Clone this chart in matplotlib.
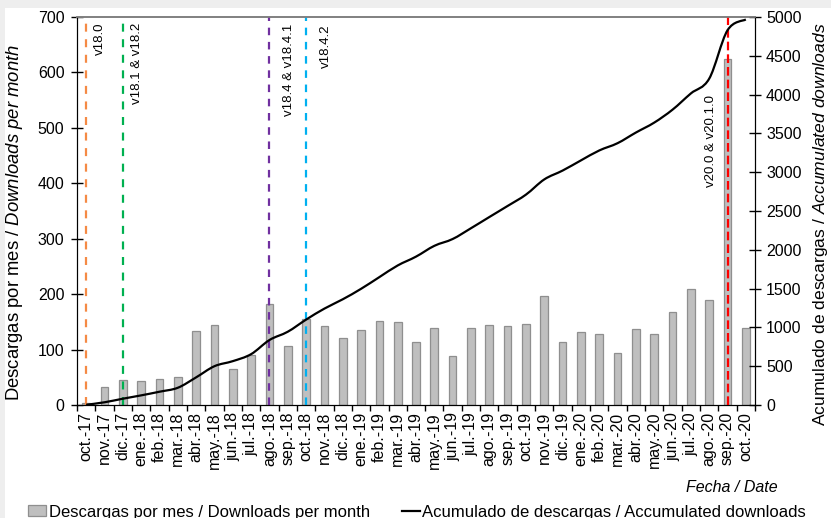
import numpy as np
import matplotlib
matplotlib.use("Agg")
import matplotlib.pyplot as plt
from matplotlib.path import Path
from matplotlib.patches import PathPatch, Rectangle, Patch
from matplotlib.lines import Line2D

plt.rcParams["font.family"] = ["Liberation Sans", "DejaVu Sans"]
plt.rcParams["mathtext.fontset"] = "custom"
plt.rcParams["mathtext.rm"] = "Liberation Sans"
plt.rcParams["mathtext.it"] = "Liberation Sans:italic"

# Monthly downloads, Oct 2017 - Oct 2020
months = [
    "oct.-17", "nov.-17", "dic.-17",
    "ene.-18", "feb.-18", "mar.-18", "abr.-18", "may.-18", "jun.-18",
    "jul.-18", "ago.-18", "sep.-18", "oct.-18", "nov.-18", "dic.-18",
    "ene.-19", "feb.-19", "mar.-19", "abr.-19", "may.-19", "jun.-19",
    "jul.-19", "ago.-19", "sep.-19", "oct.-19", "nov.-19", "dic.-19",
    "ene.-20", "feb.-20", "mar.-20", "abr.-20", "may.-20", "jun.-20",
    "jul.-20", "ago.-20", "sep.-20", "oct.-20",
]
downloads = [
    3, 32, 46,
    43, 47, 51, 134, 144, 65,
    90, 182, 107, 156, 142, 120,
    135, 151, 150, 114, 139, 88,
    139, 144, 143, 146, 196, 114,
    131, 128, 94, 137, 128, 167,
    209, 190, 624, 139,
]

# Release markers
releases = ["v18.0", "v18.1 & v18.2", "v18.4 & v18.4.1", "v18.4.2", "v20.0 & v20.1.0"]
release_months = ["oct.-17", "dic.-17", "ago.-18", "oct.-18", "sep.-20"]
release_colors = ["#F58A45", "#00B050", "#7030A0", "#00B0F0", "#FF0000"]
release_dashes = [(3.6, 3.4), (3.6, 3.4), (3.4, 3.0), (3.4, 3.0), (3.9, 1.8)]
label_dx = [0.75, 0.8, 1.05, 1.1, -0.9]
label_top = [690, 690, 687, 687, 559]

accum = np.cumsum(downloads)
x = np.arange(len(months))

fig = plt.figure(figsize=(8.31, 5.18), dpi=100)
fig.patch.set_facecolor("white")
# light frame around the sheet
fig.patches.append(Rectangle((0, 1 - 8 / 518), 1, 8 / 518, transform=fig.transFigure,
                             facecolor="#EEEEEE", edgecolor="none", zorder=-10))
fig.patches.append(Rectangle((0, 0), 5 / 831, 1, transform=fig.transFigure,
                             facecolor="#EEEEEE", edgecolor="none", zorder=-10))

ax = fig.add_axes([77 / 831, 1 - 405 / 518, (755 - 77) / 831, (405 - 17) / 518])
ax2 = ax.twinx()

bar_fc = "#BFBFBF"
bar_ec = "#8F8F8F"
ax.bar(x, downloads, width=0.42, color=bar_fc, edgecolor=bar_ec, linewidth=0.9, zorder=2)

ax.set_xlim(-0.5, len(months) - 0.5)
ax.set_ylim(0, 700)
ax2.set_ylim(0, 5000)

# release lines and labels
for name, m, c, d, dx, top in zip(releases, release_months, release_colors,
                                  release_dashes, label_dx, label_top):
    i = months.index(m)
    ax.axvline(i, color=c, lw=1.6, linestyle=(0, d), zorder=3)
    ax.text(i + dx, top, name, rotation=90, ha="center", va="top",
            fontsize=9.5, color="#000000", zorder=4)

# smoothed cumulative curve (Bezier through monthly totals)
pts = np.column_stack([x, accum]).astype(float)
ext = np.vstack([pts[0], pts, pts[-1]])
verts = [tuple(pts[0])]
codes = [Path.MOVETO]
for k in range(len(pts) - 1):
    p0, p1, p2, p3 = ext[k], ext[k + 1], ext[k + 2], ext[k + 3]
    c1 = p1 + (p2 - p0) / 6.0
    c2 = p2 - (p3 - p1) / 6.0
    verts += [tuple(c1), tuple(c2), tuple(p2)]
    codes += [Path.CURVE4, Path.CURVE4, Path.CURVE4]
ax2.add_patch(PathPatch(Path(verts, codes), fill=False, edgecolor="black",
                        lw=1.6, zorder=5))

# axes styling
for a in (ax, ax2):
    a.spines["top"].set_color("#808080")
    a.spines["top"].set_linewidth(1.2)
    a.spines["left"].set_color("black")
    a.spines["right"].set_color("black")
    a.spines["bottom"].set_color("black")
    a.patch.set_visible(False)

ax.set_yticks(np.arange(0, 701, 100))
ax.tick_params(axis="y", direction="inout", length=8, width=1, labelsize=11.5, pad=5)
ax2.set_yticks(np.arange(0, 5001, 500))
ax2.tick_params(axis="y", direction="inout", length=8, width=1, labelsize=11.5, pad=4)

ax.set_xticks(np.arange(-0.5, len(months), 1.0))
ax.set_xticklabels([])
ax.tick_params(axis="x", which="major", direction="out", length=4, width=1)
ax.set_xticks(x, minor=True)
ax.set_xticklabels(months, minor=True, rotation=90, fontsize=11.5)
ax.tick_params(axis="x", which="minor", length=0, pad=5)

fig.text(15 / 831, 1 - 223 / 518,
         r"Descargas por mes / $\mathit{Downloads\ per\ month}$",
         rotation=90, ha="center", va="center", fontsize=13.3)
fig.text(820 / 831, 1 - 224 / 518,
         r"Acumulado de descargas / $\mathit{Accumulated\ downloads}$",
         rotation=90, ha="center", va="center", fontsize=12.6)
fig.text(778 / 831, 1 - 487 / 518, "Fecha / Date", style="italic",
         ha="right", va="center", fontsize=11.5)

handles = [Patch(facecolor=bar_fc, edgecolor=bar_ec, linewidth=0.9),
           Line2D([0], [0], color="black", lw=1.6)]
fig.legend(handles, ["Descargas por mes / Downloads per month",
                     "Acumulado de descargas / Accumulated downloads"],
           ncol=2, loc="center left", bbox_to_anchor=(28 / 831, 1 - 512 / 518),
           frameon=False, fontsize=12, handlelength=1.1, handleheight=0.6,
           handletextpad=0.15, columnspacing=1.9, borderpad=0, borderaxespad=0)

fig.savefig("out.png", dpi=100, facecolor=fig.get_facecolor())
